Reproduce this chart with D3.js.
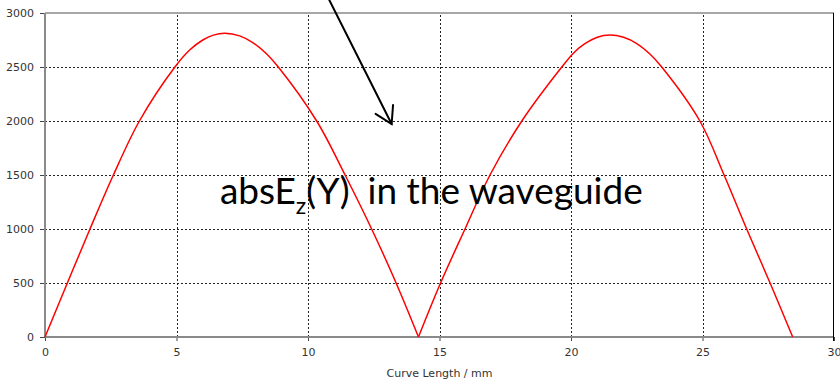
<!DOCTYPE html>
<html>
<head>
<meta charset="utf-8">
<script src="https://cdn.jsdelivr.net/npm/d3@7"></script>
<style>
  html, body { margin: 0; padding: 0; background: #fff; }
  svg { display: block; }
</style>
</head>
<body>
<svg id="chart" width="840" height="384"></svg>
<script>
// Curve length along the waveguide (mm) and |Ez| magnitude sampled along it
const curveLength = [0, 0.85, 1.71, 2.6, 3.59, 4.94, 5.5, 6.0, 6.4, 6.84, 7.4, 7.9, 8.4, 8.87,
  10.33, 11.41, 12.42, 13.35, 14.2, 15.04, 15.97, 16.92, 18.13, 19.65, 20.1, 20.5, 21.0,
  21.48, 22.0, 22.5, 23.0, 23.45, 24.9, 25.82, 26.68, 27.57, 28.43];
const absEz = [0, 500, 1000, 1500, 2000, 2500, 2657, 2750, 2795, 2812, 2788, 2726, 2628, 2500,
  2000, 1500, 1000, 500, 0, 500, 1000, 1500, 2000, 2500, 2630, 2711, 2776,
  2796, 2775, 2717, 2620, 2500, 2000, 1500, 1000, 500, 0];

const xTicks = [0, 5, 10, 15, 20, 25, 30];
const yTicks = [0, 500, 1000, 1500, 2000, 2500, 3000];
const xTitle = "Curve Length / mm";

// Annotation arrow, in data units: tail (above the plot) and head
const arrowTail = [10.81, 3120];
const arrowHead = [13.18, 1972];
const noteAnchor = [6.65, 1231];

const W = 840, H = 384;
const margin = { top: 13, right: 6, bottom: 47, left: 45 };
const svg = d3.select("#chart");

const x = d3.scaleLinear().domain([0, 30]).range([margin.left, W - margin.right]);
const y = d3.scaleLinear().domain([0, 3000]).range([H - margin.bottom, margin.top]);

const tickFont = "'DejaVu Sans', Verdana, sans-serif";

// Dashed grid
const grid = svg.append("g").attr("shape-rendering", "crispEdges");
grid.selectAll("line.h").data(yTicks.filter(v => v > 0 && v < 3000)).join("line")
  .attr("x1", x(0)).attr("x2", x(30))
  .attr("y1", d => Math.round(y(d)) + 0.5).attr("y2", d => Math.round(y(d)) + 0.5)
  .attr("stroke", "#222").attr("stroke-dasharray", "2,2");
grid.selectAll("line.v").data(xTicks.filter(v => v > 0 && v < 30)).join("line")
  .attr("y1", y(0)).attr("y2", y(3000))
  .attr("x1", d => Math.round(x(d)) + 0.5).attr("x2", d => Math.round(x(d)) + 0.5)
  .attr("stroke", "#222").attr("stroke-dasharray", "2,2");

// Axes
const yAxis = d3.axisLeft(y).tickValues(yTicks).tickSize(5).tickPadding(6).tickFormat(d3.format("d"));
const xAxis = d3.axisBottom(x).tickValues(xTicks).tickSize(4).tickPadding(7).tickFormat(d3.format("d"));

const gy = svg.append("g").attr("transform", `translate(${margin.left},0)`).call(yAxis);
const gx = svg.append("g").attr("transform", `translate(0,${H - margin.bottom})`).call(xAxis);
[gx, gy].forEach(g => {
  g.select(".domain").remove();
  g.selectAll(".tick line").attr("stroke", "#444");
  g.selectAll(".tick text").attr("fill", "#333").style("font-family", tickFont).style("font-size", "11px");
});

// Frame: gray left / bottom / top, black right edge
const frame = svg.append("g");
frame.append("line").attr("x1", x(0)).attr("x2", x(0)).attr("y1", y(3000)).attr("y2", y(0))
  .attr("stroke", "#8a8a8a").attr("stroke-width", 2);
frame.append("line").attr("x1", x(0)).attr("x2", x(30)).attr("y1", y(0)).attr("y2", y(0))
  .attr("stroke", "#8a8a8a").attr("stroke-width", 2);
frame.append("line").attr("x1", x(0)).attr("x2", x(30)).attr("y1", y(3000)).attr("y2", y(3000))
  .attr("stroke", "#8a8a8a").attr("stroke-width", 1.5);
frame.append("line").attr("x1", Math.round(x(30)) - 0.5).attr("x2", Math.round(x(30)) - 0.5)
  .attr("y1", y(3000)).attr("y2", y(0) + 4)
  .attr("stroke", "#000").attr("stroke-width", 1);

// X axis title
svg.append("text")
  .attr("x", x(15)).attr("y", H - 7)
  .attr("text-anchor", "middle")
  .attr("fill", "#333")
  .style("font-family", tickFont).style("font-size", "11px")
  .text(xTitle);

// |Ez| curve: each lobe drawn separately so the node at the zero stays sharp
const pts = curveLength.map((c, i) => [c, absEz[i]]);
const lobes = [];
let cur = [];
pts.forEach((p, i) => {
  cur.push(p);
  if (p[1] === 0 && i > 0) { lobes.push(cur); cur = [p]; }
});
if (cur.length > 1) lobes.push(cur);

const line = d3.line().x(d => x(d[0])).y(d => y(d[1])).curve(d3.curveCatmullRom.alpha(0.5));
svg.append("g").selectAll("path").data(lobes).join("path")
  .attr("d", line)
  .attr("fill", "none")
  .attr("stroke", "#ff0000")
  .attr("stroke-width", 1.5)
  .attr("stroke-linejoin", "round");

// Annotation label
const note = svg.append("text")
  .attr("x", x(noteAnchor[0])).attr("y", y(noteAnchor[1]))
  .attr("fill", "#000")
  .style("font-family", "Lato, 'Open Sans', sans-serif")
  .style("font-size", "37px");
note.append("tspan").text("absE");
note.append("tspan").attr("dy", 10).style("font-size", "23px").text("z");
note.append("tspan").attr("dy", -10).text("(Y)");
note.append("tspan").attr("dx", 18).text("in the waveguide");

// Annotation arrow
const ax0 = x(arrowTail[0]), ay0 = y(arrowTail[1]);
const ax1 = x(arrowHead[0]), ay1 = y(arrowHead[1]);
const ang = Math.atan2(ay1 - ay0, ax1 - ax0);
const barb = 19, spread = 0.54;
const arrow = svg.append("g").attr("stroke", "#000").attr("stroke-width", 2).attr("fill", "none")
  .attr("stroke-linecap", "round");
arrow.append("line").attr("x1", ax0).attr("y1", ay0).attr("x2", ax1).attr("y2", ay1);
arrow.append("path").attr("d", d3.line()([
  [ax1 - barb * Math.cos(ang - spread), ay1 - barb * Math.sin(ang - spread)],
  [ax1, ay1],
  [ax1 - barb * Math.cos(ang + spread), ay1 - barb * Math.sin(ang + spread)]
]));
</script>
</body>
</html>
